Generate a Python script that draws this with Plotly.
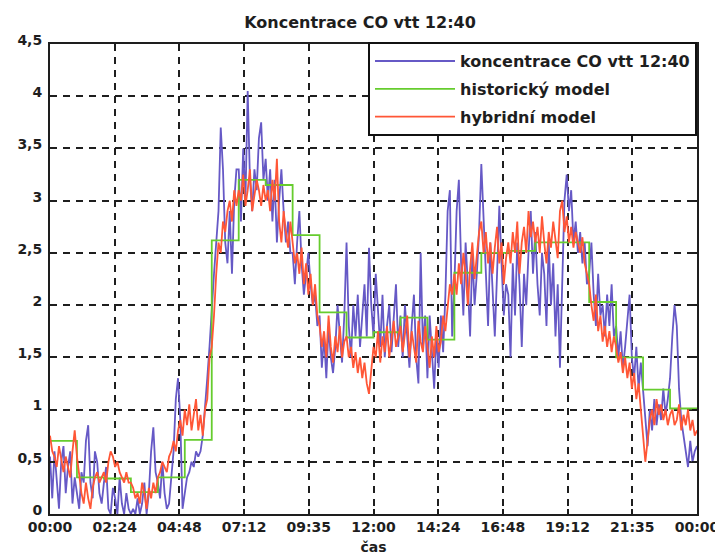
import numpy as np
import plotly.graph_objects as go

# time axis (minutes from midnight) and tick labels
tick_minutes = [0, 144, 288, 432, 576, 720, 864, 1008, 1152, 1296, 1440]
tick_labels = ["00:00", "02:24", "04:48", "07:12", "09:35", "12:00",
               "14:24", "16:48", "19:12", "21:35", "00:00"]
y_ticks = [0, 0.5, 1, 1.5, 2, 2.5, 3, 3.5, 4, 4.5]
y_labels = ["0", "0,5", "1", "1,5", "2", "2,5", "3", "3,5", "4", "4,5"]

# measured CO concentration, 5-minute samples, one row per hour
measured_rows = [
    [0.55, 0.15, 0.6, 0.3, 0.05, 0.5, 0.65, 0.2, 0.45, 0.6, 0.1, 0.35],
    [0.2, 0.05, 0.4, 0.3, 0.7, 0.85, 0.3, 0.15, 0.6, 0.5, 0.2, 0.1],
    [0.3, 0.45, 0.05, 0.0, 0.25, 0.15, 0.0, 0.35, 0.1, 0.0, 0.2, 0.05],
    [0.0, 0.05, 0.0, 0.15, 0.0, 0.1, 0.3, 0.0, 0.2, 0.6, 0.83, 0.4],
    [0.3, 0.15, 0.5, 0.2, 0.05, 0.1, 0.35, 0.6, 1.1, 1.3, 0.9, 0.05],
    [0.2, 0.35, 0.4, 0.5, 0.45, 0.6, 0.55, 0.6, 0.75, 1.0, 1.3, 1.6],
    [2.0, 2.3, 2.6, 2.9, 3.7, 3.3, 2.6, 2.4, 2.9, 2.3, 3.0, 3.3],
    [3.3, 2.8, 3.5, 3.0, 4.05, 3.2, 2.9, 3.3, 3.1, 3.6, 3.75, 3.2],
    [3.4, 3.0, 3.3, 2.8, 3.2, 2.6, 3.0, 3.3, 2.9, 2.6, 2.8, 2.5],
    [2.5, 2.2, 2.6, 2.9, 2.4, 2.1, 2.3, 2.5, 2.2, 2.0, 2.1, 1.8],
    [1.9, 1.4, 1.7, 1.3, 1.8, 1.5, 1.35, 1.6, 2.0, 1.7, 1.45, 1.9],
    [2.6, 1.8, 1.5, 2.0, 1.7, 2.1, 1.6, 1.9, 2.2, 1.7, 2.55, 2.0],
    [1.7, 2.3, 1.9, 1.6, 2.1, 1.5, 1.8, 2.0, 1.55, 1.9, 2.2, 1.6],
    [1.9, 1.5, 2.0, 1.7, 1.4, 1.8, 2.1, 1.5, 1.25, 2.5, 1.6, 1.9],
    [1.3, 1.9, 1.5, 1.2, 1.7, 1.4, 1.9, 1.55, 2.1, 2.9, 3.1, 1.7],
    [2.2, 2.9, 3.2, 2.4, 1.9, 2.6, 2.2, 1.7, 2.5, 2.0, 2.3, 2.7],
    [3.35, 2.8, 2.4, 1.8, 2.6, 2.2, 1.7, 2.3, 2.95, 2.4, 1.9, 2.2],
    [2.1, 1.5, 2.4, 1.9, 2.6, 2.2, 1.6, 2.3, 2.0, 2.5, 2.9, 2.3],
    [2.7, 2.2, 1.9, 2.5, 2.3, 1.8, 2.6, 2.0, 2.4, 1.7, 2.2, 1.4],
    [2.2, 3.0, 3.25, 2.9, 3.1, 2.6, 2.8, 2.5, 2.7, 2.4, 2.6, 2.2],
    [2.3, 2.6, 2.1, 1.8, 2.3, 1.9, 2.0, 1.7, 2.1, 1.8, 2.2, 1.7],
    [1.8, 1.5, 1.75, 1.4, 1.6, 1.9, 2.1, 1.5, 1.3, 1.6, 1.2, 1.45],
    [1.2, 0.9, 0.65, 1.0, 0.8, 1.1, 0.85, 1.05, 0.9, 1.2, 0.95, 1.1],
    [1.3, 1.7, 2.0, 1.8, 1.2, 0.9, 0.75, 0.6, 0.45, 0.7, 0.5, 0.6],
]
measured_last = 0.65

# hybrid model, 5-minute samples, one row per hour
hybrid_rows = [
    [0.75, 0.6, 0.55, 0.45, 0.65, 0.5, 0.4, 0.55, 0.45, 0.35, 0.6, 0.8],
    [0.55, 0.35, 0.2, 0.1, 0.3, 0.15, 0.05, 0.25, 0.35, 0.4, 0.3, 0.35],
    [0.4, 0.3, 0.5, 0.6, 0.55, 0.45, 0.5, 0.4, 0.35, 0.3, 0.4, 0.3],
    [0.3, 0.25, 0.15, 0.2, 0.1, 0.3, 0.2, 0.05, 0.25, 0.15, 0.3, 0.2],
    [0.35, 0.4, 0.5, 0.45, 0.4, 0.55, 0.6, 0.7, 0.6, 0.8, 0.9, 0.75],
    [1.0, 0.85, 1.05, 0.8, 0.95, 1.1, 0.8, 0.95, 0.75, 1.0, 1.1, 1.5],
    [1.6, 1.9, 2.3, 2.6, 2.5, 2.8, 2.7, 2.9, 3.0, 2.8, 3.1, 2.95],
    [3.1, 3.0, 3.25, 2.95, 3.1, 3.3, 2.9, 3.05, 3.2, 3.1, 2.95, 3.15],
    [3.0, 3.1, 2.9, 3.2, 3.0, 3.4, 2.8, 2.6, 2.9, 2.7, 2.55, 2.8],
    [2.6, 2.4, 2.5, 2.3, 2.55, 2.2, 2.4, 2.1, 2.3, 2.0, 2.2, 1.9],
    [1.8, 1.6, 1.75, 1.5, 1.9, 1.6, 1.45, 1.7, 1.55, 1.8, 1.5, 1.65],
    [1.7, 1.5, 1.6, 1.4, 1.55, 1.35, 1.5, 1.3, 1.45, 1.25, 1.15, 1.4],
    [1.6, 1.5, 1.75, 1.45, 1.7, 1.55, 1.8, 1.5, 1.65, 1.85, 1.6, 1.7],
    [1.8, 1.55, 1.7, 1.9, 1.5, 1.75, 1.6, 1.45, 1.85, 1.65, 1.55, 1.8],
    [1.6, 1.4, 1.7, 1.5, 1.8, 1.55, 1.65, 1.9, 1.75, 2.0, 2.2, 2.1],
    [2.3, 2.1, 2.4, 2.2, 2.5, 2.3, 2.0, 2.35, 2.6, 2.25, 2.45, 2.7],
    [2.8, 2.5, 2.7, 2.4, 2.6, 2.3, 2.55, 2.75, 2.4, 2.6, 2.2, 2.45],
    [2.6, 2.4, 2.7, 2.5, 2.8, 2.3, 2.6, 2.75, 2.5, 2.9, 2.65, 2.8],
    [2.6, 2.75, 2.5, 2.85, 2.6, 2.4, 2.7, 2.55, 2.8, 2.6, 2.45, 2.9],
    [3.0, 2.7, 2.85, 2.6, 2.75, 2.55, 2.7, 2.6, 2.5, 2.65, 2.4, 2.3],
    [2.2, 2.0, 1.85, 2.1, 1.75, 1.9, 1.65, 1.8, 1.6, 1.75, 1.55, 1.7],
    [1.6, 1.45, 1.55, 1.35, 1.5, 1.3, 1.45, 1.2, 1.35, 1.1, 1.25, 1.0],
    [0.75, 0.5, 0.7, 0.9, 1.0, 0.85, 1.1, 0.95, 1.05, 0.9, 1.0, 0.85],
    [0.95, 1.0, 0.85, 0.9, 1.05, 0.8, 0.95, 0.85, 1.0, 0.8, 0.9, 0.75],
]
hybrid_last = 0.8

# historical model: hourly step values
historical_hourly = [0.70, 0.35, 0.34, 0.21, 0.35, 0.71, 2.62, 3.2, 3.15, 2.67,
                     1.93, 1.69, 1.74, 1.88, 1.67, 2.31, 2.5, 2.52, 2.6, 2.6,
                     2.03, 1.5, 1.19, 1.01]

measured = [v for row in measured_rows for v in row] + [measured_last]
hybrid = [v for row in hybrid_rows for v in row] + [hybrid_last]
t5 = np.arange(0, 1441, 5)
hours = np.arange(0, 1441, 60)
historical = historical_hourly + [historical_hourly[-1]]

fnt = "DejaVu Sans, Arial, sans-serif"
ink = "#1e1e1e"

# the page body adds an 8 px margin, so the figure is sized to fit the window
W, H = 715, 549

fig = go.Figure()
fig.add_trace(go.Scatter(x=t5, y=measured, mode="lines", name="koncentrace CO vtt 12:40",
                         line=dict(color="#6659c6", width=1.8), legendgroup="a"))
fig.add_trace(go.Scatter(x=hours, y=historical, mode="lines", name="historický model",
                         line=dict(color="#66cc2e", width=1.8, shape="hv"), legendgroup="b"))
fig.add_trace(go.Scatter(x=t5, y=hybrid, mode="lines", name="hybridní model",
                         line=dict(color="#ff5636", width=1.8), legendgroup="c"))

axis_common = dict(showline=True, linecolor=ink, linewidth=2, mirror="ticks",
                   ticks="inside", ticklen=5, tickcolor=ink, tickwidth=1.5,
                   showgrid=True, gridcolor=ink, gridwidth=1.8, griddash="7px,6px",
                   zeroline=False, automargin=False,
                   tickfont=dict(family=fnt, size=14, color=ink, weight="bold"))

fig.update_xaxes(range=[0, 1440], tickvals=tick_minutes, ticktext=tick_labels,
                 ticklabelstandoff=-1,
                 title=dict(text="čas", font=dict(family=fnt, size=14, color=ink, weight="bold"),
                            standoff=8),
                 **axis_common)
fig.update_yaxes(range=[0, 4.5], tickvals=y_ticks, ticktext=y_labels,
                 ticklabelstandoff=3, ticklabelshift=-4, **axis_common)

fig.update_layout(
    width=W, height=H,
    margin=dict(l=42, r=26, t=36, b=43),
    paper_bgcolor="white", plot_bgcolor="white",
    title=dict(text="Koncentrace CO vtt 12:40", x=352 / W, xref="container", xanchor="center",
               y=1 - 14 / H, yref="container", yanchor="middle",
               font=dict(family=fnt, size=16, color=ink, weight="bold")),
    legend=dict(x=1, xanchor="right", y=1.004, yanchor="top",
                bgcolor="white", bordercolor="#111", borderwidth=2,
                font=dict(family=fnt, size=16, color=ink, weight="bold"),
                itemwidth=80, traceorder="grouped", tracegroupgap=4),
    showlegend=True,
)

fig.write_html("out.html")
